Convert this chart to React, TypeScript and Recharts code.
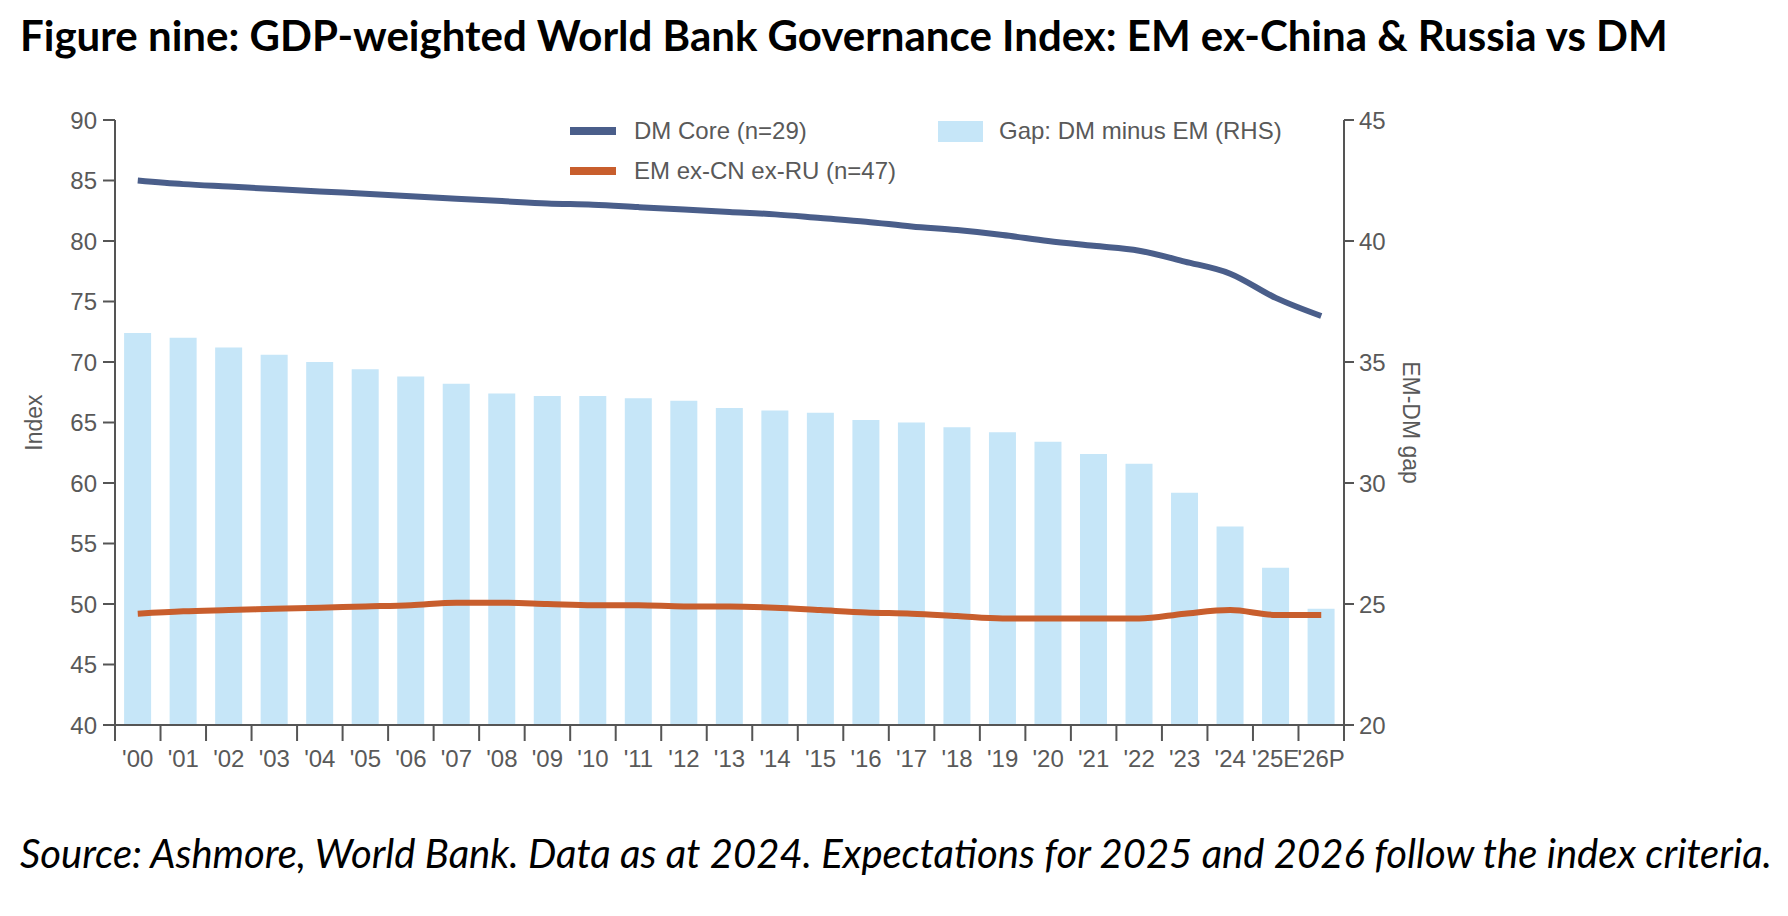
import React from 'react';
import { ComposedChart, Bar, Line, XAxis, YAxis, Legend } from 'recharts';

const years = ["'00", "'01", "'02", "'03", "'04", "'05", "'06", "'07", "'08", "'09", "'10", "'11", "'12", "'13", "'14", "'15", "'16", "'17", "'18", "'19", "'20", "'21", "'22", "'23", "'24", "'25E", "'26P"];
const dmCore = [85.0, 84.7, 84.5, 84.3, 84.1, 83.9, 83.7, 83.5, 83.3, 83.1, 83.0, 82.8, 82.6, 82.4, 82.2, 81.9, 81.6, 81.2, 80.9, 80.5, 80.0, 79.6, 79.2, 78.3, 77.3, 75.3, 73.8];
const emExCnRu = [49.2, 49.4, 49.5, 49.6, 49.7, 49.8, 49.9, 50.1, 50.1, 50.0, 49.9, 49.9, 49.8, 49.8, 49.7, 49.5, 49.3, 49.2, 49.0, 48.8, 48.8, 48.8, 48.8, 49.2, 49.5, 49.1, 49.1];
const gap = [36.2, 36.0, 35.6, 35.3, 35.0, 34.7, 34.4, 34.1, 33.7, 33.6, 33.6, 33.5, 33.4, 33.1, 33.0, 32.9, 32.6, 32.5, 32.3, 32.1, 31.7, 31.2, 30.8, 29.6, 28.2, 26.5, 24.8];

const leftTicks = [40, 45, 50, 55, 60, 65, 70, 75, 80, 85, 90];
const rightTicks = [20, 25, 30, 35, 40, 45];

const data = years.map((year, i) => ({ year, dm: dmCore[i], em: emExCnRu[i], gap: gap[i] }));

const DM_COLOR = '#4a5e8a';
const EM_COLOR = '#c85e2d';
const GAP_COLOR = '#c6e6f8';
const AXIS_COLOR = '#555555';
const TEXT_COLOR = '#595959';
const FONT = "'Liberation Sans', Arial, sans-serif";

const tickStyle = { fill: TEXT_COLOR, fontSize: 24, fontFamily: FONT };

// year label centred in its band, with the tick mark on the band's left edge
// (and one more on the right edge after the last year)
const YearTick = (props: any) => {
  const { x, y, payload, index } = props;
  const half = payload && payload.offset ? payload.offset : 22.75;
  const last = index === years.length - 1;
  return (
    <g>
      <line x1={x - half} x2={x - half} y1={y} y2={y + 16} stroke={AXIS_COLOR} strokeWidth={2} />
      {last && <line x1={x + half} x2={x + half} y1={y} y2={y + 16} stroke={AXIS_COLOR} strokeWidth={2} />}
      <text x={x} y={y + 25} dy="0.71em" textAnchor="middle" {...tickStyle}>
        {payload.value}
      </text>
    </g>
  );
};

const renderLegend = () => {
  const text: React.CSSProperties = {
    position: 'absolute',
    fontFamily: FONT,
    fontSize: 24,
    color: TEXT_COLOR,
    lineHeight: '24px',
    whiteSpace: 'nowrap',
  };
  return (
    <div style={{ position: 'relative', width: 640, height: 80 }}>
      <div style={{ position: 'absolute', left: 10, top: 17, width: 46, height: 8, background: DM_COLOR }} />
      <div style={{ ...text, left: 74, top: 9 }}>DM Core (n=29)</div>
      <div style={{ position: 'absolute', left: 10, top: 57, width: 46, height: 8, background: EM_COLOR }} />
      <div style={{ ...text, left: 74, top: 49 }}>EM ex-CN ex-RU (n=47)</div>
      <div style={{ position: 'absolute', left: 378, top: 11, width: 45, height: 21, background: GAP_COLOR }} />
      <div style={{ ...text, left: 439, top: 9 }}>Gap: DM minus EM (RHS)</div>
    </div>
  );
};

export default function App() {
  return (
    <div style={{ position: 'absolute', left: 0, top: 0, width: 1788, height: 916, background: '#fff' }}>
      <div
        style={{
          position: 'absolute',
          left: 20,
          top: 10,
          fontFamily: "Lato, 'Open Sans', sans-serif",
          fontWeight: 700,
          fontSize: 42,
          lineHeight: '50px',
          color: '#000',
          whiteSpace: 'nowrap',
        }}
      >
        Figure nine: GDP-weighted World Bank Governance Index: EM ex-China &amp; Russia vs DM
      </div>

      <div style={{ position: 'absolute', left: 0, top: 0 }}>
        <ComposedChart
          width={1788}
          height={800}
          data={data}
          barCategoryGap="20%"
          margin={{ top: 120, right: 344, bottom: 19, left: 0 }}
        >
          <XAxis
            dataKey="year"
            interval={0}
            axisLine={{ stroke: AXIS_COLOR, strokeWidth: 2 }}
            tickLine={false}
            tickSize={0}
            tickMargin={0}
            height={56}
            tick={<YearTick />}
          />
          <YAxis
            yAxisId="left"
            domain={[40, 90]}
            ticks={leftTicks}
            width={115}
            tickSize={12}
            tickMargin={6}
            tick={tickStyle}
            axisLine={{ stroke: AXIS_COLOR, strokeWidth: 2 }}
            tickLine={{ stroke: AXIS_COLOR, strokeWidth: 2 }}
            label={{
              value: 'Index',
              angle: -90,
              position: 'insideLeft',
              offset: 34,
              style: { textAnchor: 'middle', fill: TEXT_COLOR, fontSize: 23, fontFamily: FONT },
            }}
          />
          <YAxis
            yAxisId="right"
            orientation="right"
            domain={[20, 45]}
            ticks={rightTicks}
            width={100}
            tickSize={10}
            tickMargin={5}
            tick={tickStyle}
            axisLine={{ stroke: AXIS_COLOR, strokeWidth: 2 }}
            tickLine={{ stroke: AXIS_COLOR, strokeWidth: 2 }}
            label={{
              value: 'EM-DM gap',
              angle: 90,
              position: 'insideLeft',
              offset: 67,
              style: { textAnchor: 'middle', fill: TEXT_COLOR, fontSize: 23, fontFamily: FONT },
            }}
          />
          <Legend
            layout="vertical"
            align="center"
            verticalAlign="middle"
            content={renderLegend}
            wrapperStyle={{ left: 560, top: 110, width: 640, height: 80 }}
          />
          <Bar
            yAxisId="right"
            dataKey="gap"
            name="Gap: DM minus EM (RHS)"
            fill={GAP_COLOR}
            isAnimationActive={false}
          />
          <Line
            yAxisId="left"
            type="monotone"
            dataKey="dm"
            name="DM Core (n=29)"
            stroke={DM_COLOR}
            strokeWidth={6}
            dot={false}
            isAnimationActive={false}
          />
          <Line
            yAxisId="left"
            type="monotone"
            dataKey="em"
            name="EM ex-CN ex-RU (n=47)"
            stroke={EM_COLOR}
            strokeWidth={6}
            dot={false}
            isAnimationActive={false}
          />
        </ComposedChart>
      </div>

      <div
        style={{
          position: 'absolute',
          left: 20,
          top: 829,
          fontFamily: "Lato, 'Open Sans', sans-serif",
          fontStyle: 'italic',
          fontSize: 40,
          lineHeight: '48px',
          color: '#000',
          whiteSpace: 'nowrap',
        }}
      >
        Source: Ashmore, World Bank. Data as at 2024. Expectations for 2025 and 2026 follow the index criteria.
      </div>
    </div>
  );
}
